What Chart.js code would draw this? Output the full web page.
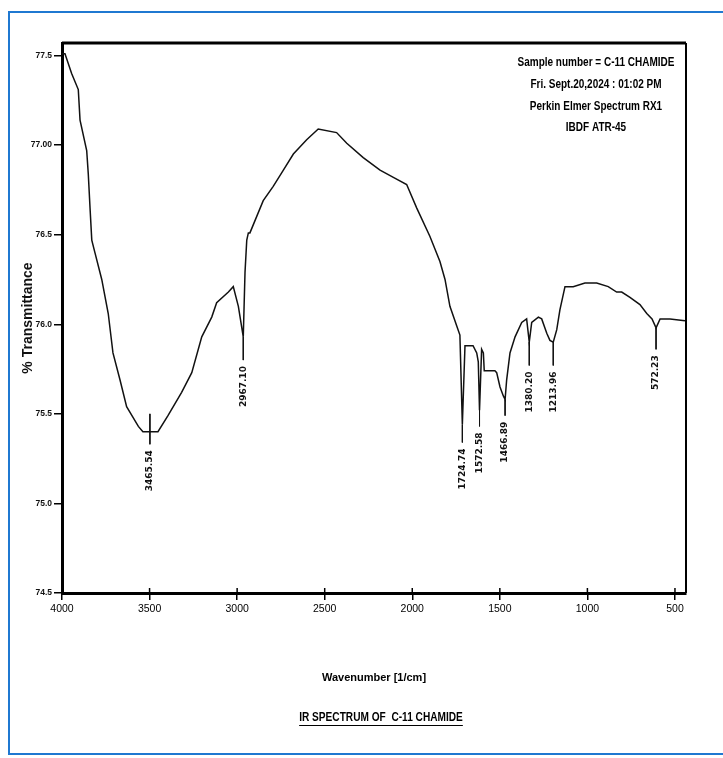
<!DOCTYPE html>
<html><head><meta charset="utf-8">
<script src="https://cdn.jsdelivr.net/npm/chart.js@4"></script>
<style>html,body{margin:0;padding:0;background:#fff;} #c{display:block;}</style>
</head><body>
<canvas id="c" width="723" height="758"></canvas>
<script>
const wavenumbers = [4000, 3983, 3945, 3907, 3897, 3859, 3850, 3840, 3830, 3812, 3773, 3736, 3709, 3669, 3631, 3564, 3538, 3498, 3452, 3395, 3317, 3259, 3202, 3145, 3117, 3050, 3022, 2993, 2965, 2955, 2945, 2936, 2927, 2851, 2794, 2736, 2679, 2603, 2537, 2432, 2374, 2280, 2184, 2108, 2032, 1975, 1899, 1842, 1813, 1785, 1746, 1728, 1714, 1699, 1653, 1632, 1623, 1616, 1604, 1594, 1589, 1585, 1528, 1518, 1499, 1480, 1470, 1461, 1442, 1413, 1375, 1347, 1332, 1318, 1280, 1261, 1232, 1214, 1195, 1175, 1157, 1128, 1081, 1014, 947, 881, 833, 804, 757, 700, 661, 631, 608, 585, 528, 443];
const transmittance = [77.51, 77.51, 77.40, 77.31, 77.14, 76.97, 76.84, 76.65, 76.47, 76.40, 76.25, 76.06, 75.84, 75.69, 75.54, 75.43, 75.40, 75.40, 75.40, 75.49, 75.62, 75.73, 75.93, 76.04, 76.12, 76.18, 76.21, 76.10, 75.93, 76.29, 76.47, 76.51, 76.51, 76.69, 76.77, 76.86, 76.95, 77.03, 77.09, 77.07, 77.01, 76.93, 76.86, 76.82, 76.78, 76.65, 76.49, 76.35, 76.25, 76.10, 75.99, 75.94, 75.44, 75.88, 75.88, 75.84, 75.79, 75.52, 75.86, 75.84, 75.74, 75.74, 75.74, 75.73, 75.65, 75.60, 75.58, 75.69, 75.84, 75.93, 76.01, 76.03, 75.90, 76.01, 76.04, 76.03, 75.95, 75.91, 75.90, 75.97, 76.08, 76.21, 76.21, 76.23, 76.23, 76.21, 76.18, 76.18, 76.15, 76.11, 76.06, 76.03, 75.98, 76.03, 76.03, 76.02];

const xTicks = [4000, 3500, 3000, 2500, 2000, 1500, 1000, 500];
const yTicks = [74.5, 75.0, 75.5, 76.0, 76.5, 77.0, 77.5];
const yTickLabels = ['74.5', '75.0', '75.5', '76.0', '76.5', '77.00', '77.5'];

const peakLabels = ['3465.54', '2967.10', '1724.74', '1572.58', '1466.89', '1380.20', '1213.96', '572.23'];
const peakX = [3498, 2965, 1714, 1616, 1470, 1332, 1195, 608];
const peakTop = [75.50, 75.93, 75.44, 75.52, 75.58, 75.90, 75.90, 75.98];
const peakBottom = [75.33, 75.80, 75.34, 75.43, 75.49, 75.77, 75.77, 75.86];

const infoLines = ['Sample number = C-11 CHAMIDE', 'Fri. Sept.20,2024 : 01:02 PM', 'Perkin Elmer Spectrum RX1', 'IBDF ATR-45'];
const xTitle = 'Wavenumber [1/cm]';
const yTitle = '% Transmittance';
const caption = 'IR SPECTRUM OF  C-11 CHAMIDE';

const SANS = '"Liberation Sans", Arial, sans-serif';

const datasets = [{
  data: wavenumbers.map((w, i) => ({x: w, y: transmittance[i]})),
  borderColor: '#111', borderWidth: 1.5, pointRadius: 0, tension: 0, fill: false
}];
peakX.forEach((px, i) => datasets.push({
  data: [{x: px, y: peakTop[i]}, {x: px, y: peakBottom[i]}],
  borderColor: '#111', borderWidth: 1, pointRadius: 0, fill: false
}));

function narrowText(ctx, text, cx, cy, sx) {
  ctx.save();
  ctx.translate(cx, cy);
  ctx.scale(sx, 1);
  ctx.fillText(text, 0, 0);
  const w = ctx.measureText(text).width * sx;
  ctx.restore();
  return w;
}

const decor = {
  id: 'decor',
  beforeDraw(chart) {
    const ctx = chart.ctx;
    ctx.save(); ctx.fillStyle = '#fff'; ctx.fillRect(0, 0, chart.width, chart.height); ctx.restore();
  },
  afterDraw(chart) {
    const {ctx, chartArea: a, scales: {x, y}} = chart;
    ctx.save();
    ctx.strokeStyle = '#000';
    ctx.lineWidth = 3;
    ctx.beginPath(); ctx.moveTo(a.left, a.top); ctx.lineTo(a.right, a.top); ctx.stroke();
    ctx.lineWidth = 2;
    ctx.beginPath(); ctx.moveTo(a.right, a.top); ctx.lineTo(a.right, a.bottom); ctx.stroke();
    ctx.lineWidth = 1.5;
    xTicks.forEach(v => {
      const px = x.getPixelForValue(v);
      ctx.beginPath(); ctx.moveTo(px, a.bottom - 5); ctx.lineTo(px, a.bottom); ctx.stroke();
    });
    ctx.fillStyle = '#111';
    ctx.font = 'bold 9px "DejaVu Sans", sans-serif';
    ctx.textAlign = 'right';
    ctx.textBaseline = 'middle';
    peakLabels.forEach((t, i) => {
      const px = x.getPixelForValue(peakX[i]);
      const py = y.getPixelForValue(peakBottom[i]);
      ctx.save(); ctx.translate(px, py + 6); ctx.rotate(-Math.PI / 2);
      ctx.fillText(t, 0, 0); ctx.restore();
    });
    ctx.fillStyle = '#000';
    ctx.font = 'bold 12.5px ' + SANS;
    ctx.textAlign = 'center';
    const infoY = [63, 85, 107, 128];
    infoLines.forEach((t, i) => narrowText(ctx, t, 596, infoY[i], 0.8));
    const w = narrowText(ctx, caption, 381, 718, 0.81);
    ctx.lineWidth = 1.2;
    ctx.beginPath(); ctx.moveTo(381 - w / 2, 725.5); ctx.lineTo(381 + w / 2, 725.5); ctx.stroke();
    ctx.strokeStyle = '#1f78d1';
    ctx.lineWidth = 2;
    ctx.strokeRect(9, 12, 760, 742);
    ctx.restore();
  }
};

new Chart(document.getElementById('c'), {
  type: 'line',
  data: {datasets},
  plugins: [decor],
  options: {
    responsive: false,
    animation: false,
    devicePixelRatio: 1,
    layout: {padding: {left: 0, top: 43, right: 37, bottom: 73}},
    plugins: {legend: {display: false}, tooltip: {enabled: false}},
    scales: {
      x: {
        type: 'linear', reverse: true, min: 437, max: 4000,
        afterFit: s => { s.height = 92; },
        afterBuildTicks: s => { s.ticks = xTicks.map(v => ({value: v})); },
        grid: {drawOnChartArea: false, tickLength: 7, color: '#000', lineWidth: 1.5},
        border: {display: true, color: '#000', width: 3},
        ticks: {color: '#000', padding: 3, maxRotation: 0, autoSkip: false,
          font: {family: SANS, size: 10.5}, callback: v => String(v)},
        title: {display: true, text: xTitle, color: '#000', padding: {top: 0, bottom: 0},
          font: {family: SANS, size: 11, weight: 'bold'}}
      },
      y: {
        type: 'linear', min: 74.5, max: 77.57,
        afterFit: s => { s.width = 62; },
        afterBuildTicks: s => { s.ticks = yTicks.map(v => ({value: v})); },
        grid: {drawOnChartArea: false, tickLength: 8, color: '#000', lineWidth: 1.5},
        border: {display: true, color: '#000', width: 3},
        ticks: {color: '#111', padding: 2, autoSkip: false,
          font: {family: SANS, size: 8.5, weight: 'bold'},
          callback: v => { const i = yTicks.findIndex(t => Math.abs(t - v) < 1e-6); return i >= 0 ? yTickLabels[i] : ''; }},
        title: {display: true, text: yTitle, color: '#111', padding: {top: 20, bottom: 0},
          font: {family: SANS, size: 14, weight: 'bold'}}
      }
    }
  }
});
</script>
</body></html>
